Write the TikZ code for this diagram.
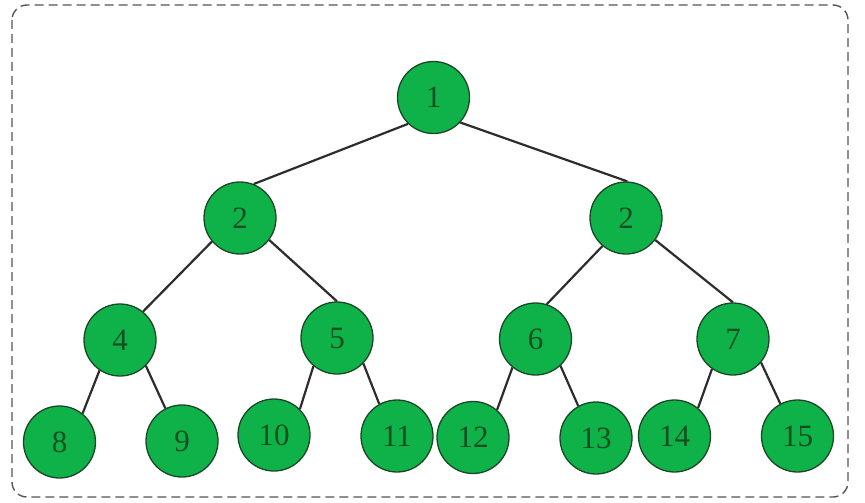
\documentclass[tikz,border=0pt]{standalone}
\usepackage{fontspec}
\setmainfont{Liberation Serif}
\definecolor{nodefill}{RGB}{14,178,72}
\definecolor{nodeedge}{RGB}{28,70,40}
\definecolor{nodetext}{RGB}{18,78,34}
\definecolor{edgecol}{RGB}{45,45,45}
\definecolor{framecol}{RGB}{85,85,85}
\begin{document}
\begin{tikzpicture}[x=1pt,y=-1pt,
  tn/.style={circle,fill=nodefill,draw=nodeedge,line width=1.3pt,minimum size=72pt,inner sep=0pt,
    text=nodetext,font=\fontsize{31}{31}\selectfont},
  te/.style={draw=edgecol,line width=2.2pt}]
\useasboundingbox (0,0) rectangle (865,503);
\draw[framecol,line width=1.4pt,dash pattern=on 9pt off 5pt,rounded corners=15pt] (12,5) rectangle (848,497);
\node[tn] (n1) at (433.5,97.5) {1};
\node[tn] (n2) at (240,218) {2};
\node[tn] (n3) at (626,218) {2};
\node[tn] (n4) at (120,340) {4};
\node[tn] (n5) at (337,338) {5};
\node[tn] (n6) at (535.5,339) {6};
\node[tn] (n7) at (733,339) {7};
\node[tn] (n8) at (59.5,442) {8};
\node[tn] (n9) at (182,441) {9};
\node[tn] (n10) at (274,435) {10};
\node[tn] (n11) at (397,436) {11};
\node[tn] (n12) at (473,437.5) {12};
\node[tn] (n13) at (596,438) {13};
\node[tn] (n14) at (674.5,436) {14};
\node[tn] (n15) at (797.5,436) {15};
\draw[te] (n1.226) -- (n2.68);
\draw[te] (n1.317) -- (n3.88);
\draw[te] (n2.220) -- (n4.51);
\draw[te] (n2.323) -- (n5.90);
\draw[te] (n3.230) -- (n6.72);
\draw[te] (n3.323) -- (n7.90);
\draw[te] (n4.236) -- (n8.51);
\draw[te] (n4.315) -- (n9.117);
\draw[te] (n5.230) -- (n10.45);
\draw[te] (n5.316) -- (n11.119);
\draw[te] (n6.231) -- (n12.49);
\draw[te] (n6.313) -- (n13.119);
\draw[te] (n7.235) -- (n14.50);
\draw[te] (n7.320) -- (n15.118);
\end{tikzpicture}
\end{document}
